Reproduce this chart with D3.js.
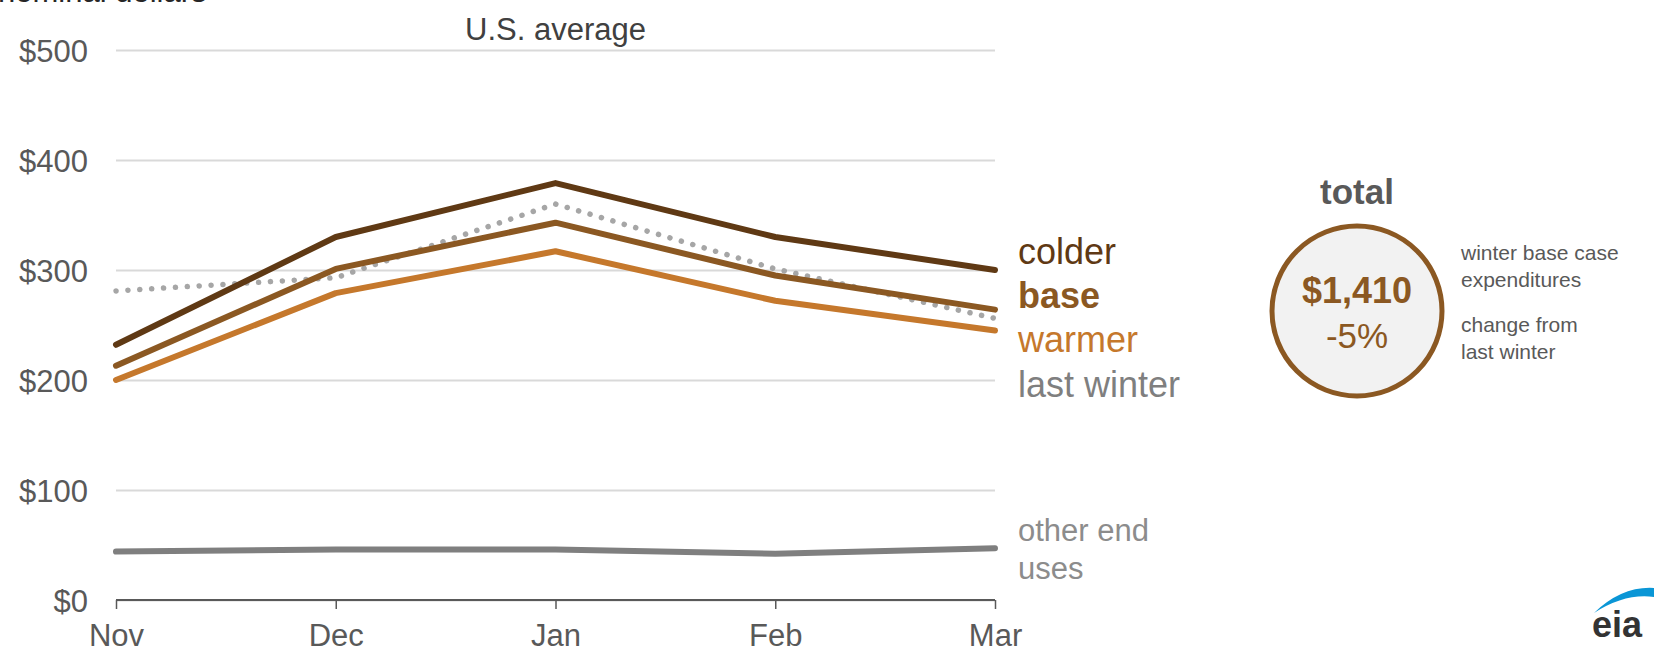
<!DOCTYPE html>
<html>
<head>
<meta charset="utf-8">
<script src="https://cdn.jsdelivr.net/npm/d3@7"></script>
<style>
  body { margin: 0; background: #fff; }
  svg { display: block; font-family: "Liberation Sans", Arial, sans-serif; }
</style>
</head>
<body>
<div id="chart"></div>
<script>
const months = ["Nov", "Dec", "Jan", "Feb", "Mar"];
const colder = [232, 330, 379, 330, 300];
const base = [213, 301, 343, 295, 264];
const warmer = [200, 279, 317, 272, 245];
const lastWinter = [281, 293, 360, 301, 256];
const otherEndUses = [44, 46, 46, 42, 47];
const yTicks = [0, 100, 200, 300, 400, 500];

const totalValue = "$1,410";
const totalChange = "-5%";

const width = 1654;
const height = 652;
const margin = { top: 50, right: 659, bottom: 52, left: 116 };
const usableArea = {
  top: margin.top,
  right: width - margin.right,
  bottom: height - margin.bottom,
  left: margin.left,
};

const svg = d3
  .select("#chart")
  .append("svg")
  .attr("width", width)
  .attr("height", height)
  .attr("viewBox", `0 0 ${width} ${height}`);

const xScale = d3
  .scalePoint()
  .domain(months)
  .range([usableArea.left, usableArea.right]);

const yScale = d3
  .scaleLinear()
  .domain([0, 500])
  .range([usableArea.bottom, usableArea.top]);

// gridlines + y labels
const yAxis = svg
  .append("g")
  .attr("transform", `translate(${usableArea.left}, 0)`)
  .call(
    d3
      .axisLeft(yScale)
      .tickValues(yTicks)
      .tickFormat((d) => "$" + d)
      .tickSize(-(usableArea.right - usableArea.left))
      .tickPadding(28)
  );
yAxis.select(".domain").remove();
yAxis
  .selectAll(".tick line")
  .attr("stroke", "#d9d9d9")
  .attr("stroke-width", 2)
  .attr("x2", usableArea.right - usableArea.left)
  .attr("x1", 0);
yAxis
  .selectAll(".tick text")
  .attr("fill", "#595959")
  .style("font-size", "31px")
  .attr("dy", "0.36em");

// x axis
const xAxis = svg
  .append("g")
  .attr("transform", `translate(0, ${usableArea.bottom})`)
  .call(d3.axisBottom(xScale).tickSize(9).tickPadding(15));
xAxis.select(".domain").attr("stroke", "#595959").attr("stroke-width", 2)
  .attr("d", `M${usableArea.left},0H${usableArea.right}`);
xAxis.selectAll(".tick line").attr("stroke", "#595959").attr("stroke-width", 1.5);
xAxis
  .selectAll(".tick text")
  .attr("fill", "#595959")
  .style("font-size", "31px");

// lines
const line = d3
  .line()
  .x((d, i) => xScale(months[i]))
  .y((d) => yScale(d));

const series = [
  { name: "other", values: otherEndUses, color: "#7f7f7f", dash: null },
  { name: "lastWinter", values: lastWinter, color: "#a6a6a6", dash: "0.1 11.8" },
  { name: "warmer", values: warmer, color: "#c5782c", dash: null },
  { name: "base", values: base, color: "#8b5822", dash: null },
  { name: "colder", values: colder, color: "#5f3914", dash: null },
];

svg
  .append("g")
  .attr("class", "lines")
  .selectAll("path")
  .data(series)
  .join("path")
  .attr("d", (d) => line(d.values))
  .attr("fill", "none")
  .attr("stroke", (d) => d.color)
  .attr("stroke-width", (d) => (d.dash ? 5.5 : 6))
  .attr("stroke-linecap", "round")
  .attr("stroke-linejoin", "round")
  .attr("stroke-dasharray", (d) => d.dash);

// titles
svg
  .append("text")
  .attr("x", -2)
  .attr("y", 2)
  .attr("fill", "#262626")
  .style("font-size", "31px")
  .text("nominal dollars");

svg
  .append("text")
  .attr("x", xScale("Jan"))
  .attr("y", 40)
  .attr("text-anchor", "middle")
  .attr("fill", "#404040")
  .style("font-size", "31px")
  .text("U.S. average");

// legend labels
const legend = [
  { text: "colder", color: "#5f3914", weight: "normal", y: 264 },
  { text: "base", color: "#8b5822", weight: "bold", y: 308 },
  { text: "warmer", color: "#c5782c", weight: "normal", y: 352 },
  { text: "last winter", color: "#7f7f7f", weight: "normal", y: 397 },
];
svg
  .append("g")
  .selectAll("text")
  .data(legend)
  .join("text")
  .attr("x", 1018)
  .attr("y", (d) => d.y)
  .attr("fill", (d) => d.color)
  .style("font-weight", (d) => d.weight)
  .style("font-size", "36px")
  .text((d) => d.text);

svg
  .append("text")
  .attr("x", 1018)
  .attr("y", 541)
  .attr("fill", "#8c8c8c")
  .style("font-size", "31px")
  .selectAll("tspan")
  .data(["other end", "uses"])
  .join("tspan")
  .attr("x", 1018)
  .attr("dy", (d, i) => (i ? 38 : 0))
  .text((d) => d);

// total circle
const cx = 1357;
const cy = 311;
svg
  .append("text")
  .attr("x", cx)
  .attr("y", 204)
  .attr("text-anchor", "middle")
  .attr("fill", "#595959")
  .style("font-weight", "bold")
  .style("font-size", "35px")
  .text("total");

svg
  .append("circle")
  .attr("cx", cx)
  .attr("cy", cy)
  .attr("r", 85)
  .attr("fill", "#f2f2f2")
  .attr("stroke", "#8b5822")
  .attr("stroke-width", 5);

svg
  .append("text")
  .attr("x", cx)
  .attr("y", 303)
  .attr("text-anchor", "middle")
  .attr("fill", "#8b5822")
  .style("font-weight", "bold")
  .style("font-size", "36px")
  .text(totalValue);

svg
  .append("text")
  .attr("x", cx)
  .attr("y", 348)
  .attr("text-anchor", "middle")
  .attr("fill", "#8b5822")
  .style("font-size", "35px")
  .text(totalChange);

const notes = [
  { lines: ["winter base case", "expenditures"], y: 260 },
  { lines: ["change from", "last winter"], y: 332 },
];
notes.forEach((n) => {
  svg
    .append("text")
    .attr("y", n.y)
    .attr("fill", "#595959")
    .style("font-size", "21px")
    .selectAll("tspan")
    .data(n.lines)
    .join("tspan")
    .attr("x", 1461)
    .attr("dy", (d, i) => (i ? 27 : 0))
    .text((d) => d);
});

// eia logo
svg
  .append("path")
  .attr("d", "M1594,613 Q1622,586 1654,588 L1654,597 Q1625,593 1594,613 Z")
  .attr("fill", "#0a96d6");
svg
  .append("text")
  .attr("x", 1592)
  .attr("y", 637)
  .attr("fill", "#333333")
  .style("font-weight", "bold")
  .style("font-size", "36px")
  .text("eia");
</script>
</body>
</html>
